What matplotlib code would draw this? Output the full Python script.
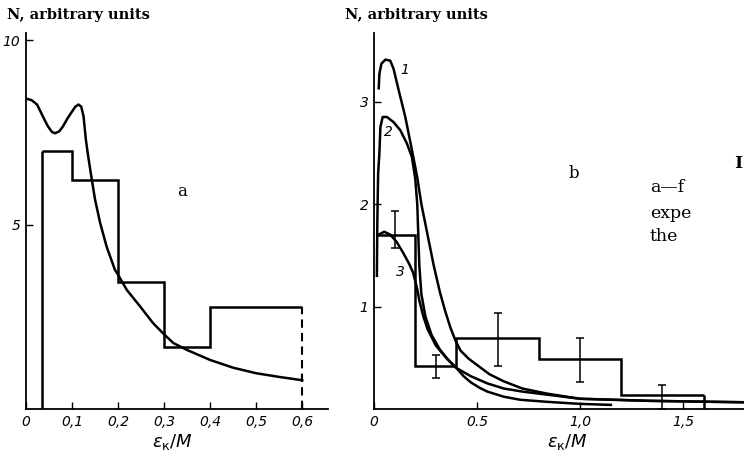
import matplotlib
matplotlib.use("Agg")
import matplotlib.pyplot as plt

# ---- panel a ----
a_edges = [0.035, 0.1, 0.2, 0.3, 0.4, 0.6]
a_counts = [7.0, 6.2, 3.45, 1.68, 2.78]
a_curve_x = [0.0, 0.012, 0.024, 0.037, 0.047, 0.056, 0.063, 0.072, 0.08, 0.09, 0.1,
             0.107, 0.114, 0.12, 0.125, 0.13, 0.135, 0.143, 0.15, 0.161, 0.175,
             0.193, 0.2, 0.219, 0.248, 0.276, 0.298, 0.32, 0.35, 0.4, 0.45, 0.5,
             0.55, 0.6]
a_curve_y = [8.42, 8.38, 8.26, 7.93, 7.68, 7.52, 7.48, 7.53, 7.66, 7.88, 8.07,
             8.2, 8.26, 8.2, 7.94, 7.31, 6.86, 6.22, 5.68, 5.05, 4.41,
             3.78, 3.64, 3.23, 2.78, 2.33, 2.05, 1.79, 1.6, 1.33, 1.12, 0.97,
             0.87, 0.78]
a_xticks = [0, 0.1, 0.2, 0.3, 0.4, 0.5, 0.6]
a_xlabels = ["0", "0,1", "0,2", "0,3", "0,4", "0,5", "0,6"]
a_yticks = [5, 10]
a_ylabels = ["5", "10"]

# ---- panel b ----
b_edges = [0.015, 0.2, 0.4, 0.8, 1.2, 1.6]
b_counts = [1.7, 0.42, 0.69, 0.49, 0.14]
err_x = [0.1, 0.3, 0.6, 1.0, 1.4]
err_y = [1.7, 0.42, 0.69, 0.49, 0.14]
err_lo = [1.57, 0.30, 0.42, 0.26, 0.0]
err_hi = [1.93, 0.53, 0.94, 0.69, 0.23]

c1_x = [0.023, 0.026, 0.036, 0.055, 0.079, 0.095, 0.12, 0.152, 0.184, 0.21, 0.23,
        0.26, 0.29, 0.32, 0.345, 0.37, 0.395, 0.42, 0.46, 0.5, 0.56, 0.63, 0.72,
        0.84, 1.0, 1.33, 1.65, 2.0]
c1_y = [3.13, 3.27, 3.37, 3.41, 3.40, 3.32, 3.11, 2.85, 2.53, 2.26, 2.0,
        1.7, 1.4, 1.14, 0.96, 0.8, 0.67, 0.57, 0.49, 0.43, 0.34, 0.27, 0.2,
        0.15, 0.1, 0.08, 0.07, 0.06]
c2_x = [0.014, 0.016, 0.02, 0.026, 0.031, 0.042, 0.063, 0.095, 0.128, 0.16, 0.184,
        0.2, 0.21, 0.215, 0.22, 0.23, 0.25, 0.28, 0.32, 0.36, 0.4, 0.47, 0.55,
        0.63, 0.72, 0.84, 1.0, 1.33, 1.65, 2.0]
c2_y = [1.3, 1.8, 2.3, 2.49, 2.75, 2.85, 2.85, 2.80, 2.72, 2.59, 2.46,
        2.25, 2.0, 1.7, 1.4, 1.12, 0.9, 0.72, 0.58, 0.48, 0.4, 0.32, 0.25,
        0.2, 0.17, 0.14, 0.1, 0.08, 0.07, 0.06]
c3_x = [0.02, 0.05, 0.08, 0.11, 0.14, 0.17, 0.19, 0.21, 0.22, 0.24, 0.26, 0.3,
        0.35, 0.4, 0.435, 0.47, 0.51, 0.55, 0.63, 0.71, 0.84, 1.0, 1.15]
c3_y = [1.7, 1.73, 1.7, 1.63, 1.53, 1.42, 1.33, 1.17, 1.06, 0.9, 0.78, 0.62,
        0.5, 0.4, 0.32, 0.26, 0.21, 0.17, 0.12, 0.09, 0.07, 0.05, 0.04]
b_xticks = [0, 0.5, 1.0, 1.5]
b_xlabels = ["0", "0.5", "1,0", "1,5"]
b_yticks = [1, 2, 3]
b_ylabels = ["1", "2", "3"]

W, H = 744, 454
fig = plt.figure(figsize=(W / 100, H / 100), dpi=100)

LW = 1.8
tick_font = dict(fontsize=10, fontstyle="italic", family="DejaVu Sans")
head_font = dict(fontsize=10.5, fontweight="bold", family="DejaVu Serif")


def style_axes(ax):
    for s in ["top", "right"]:
        ax.spines[s].set_visible(False)
    for s in ["left", "bottom"]:
        ax.spines[s].set_linewidth(1.3)
    ax.tick_params(direction="in", length=5, width=1.0, pad=4)
    ax.set_facecolor("white")


# panel a: 0 at x=26px, 0.656 at 328px; y 0 at 409px, 10.2 at 33px
ax1 = fig.add_axes([26 / W, 1 - 409 / H, 302 / W, 376 / H])
style_axes(ax1)
ax1.set_xlim(0, 0.656)
ax1.set_ylim(0, 10.2)
ax1.stairs(a_counts, a_edges, baseline=None, color="black", lw=LW)
ax1.vlines(a_edges[0], 0, a_counts[0], color="black", lw=LW)
ax1.vlines(a_edges[-1], 0, a_counts[-1], color="black", lw=1.5, linestyles=(0, (4, 2.5)))
ax1.plot(a_curve_x, a_curve_y, color="black", lw=LW)
ax1.set_xticks(a_xticks)
ax1.set_xticklabels(a_xlabels, **tick_font)
ax1.set_yticks(a_yticks)
ax1.set_yticklabels(a_ylabels, **tick_font)
ax1.set_xlabel(r"$\varepsilon_{\mathrm{к}}/M$", fontsize=13, labelpad=0)
ax1.xaxis.set_label_coords((172 - 26) / 302, -0.06)
ax1.text(0.338, 5.9, "a", fontsize=12, family="DejaVu Serif", ha="center", va="center")

# panel b: 0 at x=374px, 206 px per unit (runs past the right edge)
ax2 = fig.add_axes([374 / W, 1 - 409 / H, 412 / W, 376 / H])
style_axes(ax2)
ax2.set_xlim(0, 2.0)
ax2.set_ylim(0, 3.67)
ax2.stairs(b_counts, b_edges, baseline=None, color="black", lw=LW)
ax2.vlines(b_edges[-1], 0, b_counts[-1], color="black", lw=LW)
yerr = [[y - lo for y, lo in zip(err_y, err_lo)], [hi - y for y, hi in zip(err_y, err_hi)]]
ax2.errorbar(err_x, err_y, yerr=yerr, fmt="none", ecolor="black", elinewidth=1.1,
             capsize=3, capthick=1.1)
ax2.plot(c1_x, c1_y, color="black", lw=LW)
ax2.plot(c2_x, c2_y, color="black", lw=LW)
ax2.plot(c3_x, c3_y, color="black", lw=LW)
ax2.text(0.15, 3.31, "1", fontsize=10, fontstyle="italic", ha="center", va="center")
ax2.text(0.068, 2.70, "2", fontsize=10, fontstyle="italic", ha="center", va="center")
ax2.text(0.126, 1.34, "3", fontsize=10, fontstyle="italic", ha="center", va="center")
ax2.set_xticks(b_xticks)
ax2.set_xticklabels(b_xlabels, **tick_font)
ax2.set_yticks(b_yticks)
ax2.set_yticklabels(b_ylabels, **tick_font)
ax2.set_xlabel(r"$\varepsilon_{\mathrm{к}}/M$", fontsize=13, labelpad=0)
ax2.xaxis.set_label_coords((567 - 374) / 412, -0.06)
ax2.text(0.97, 2.3, "b", fontsize=12, family="DejaVu Serif", ha="center", va="center")

# headings and the caption fragments on the right
fig.text(7 / W, 1 - 15 / H, "N, arbitrary units", ha="left", va="center", **head_font)
fig.text(345 / W, 1 - 15 / H, "N, arbitrary units", ha="left", va="center", **head_font)
cap_font = dict(fontsize=12.5, family="DejaVu Serif", ha="left", va="center")
fig.text(734 / W, 1 - 163 / H, "I", fontweight="bold", **cap_font)
fig.text(650 / W, 1 - 188 / H, "a—f", **cap_font)
fig.text(650 / W, 1 - 213 / H, "expe", **cap_font)
fig.text(650 / W, 1 - 236 / H, "the", **cap_font)

fig.savefig("out.png", dpi=100)
